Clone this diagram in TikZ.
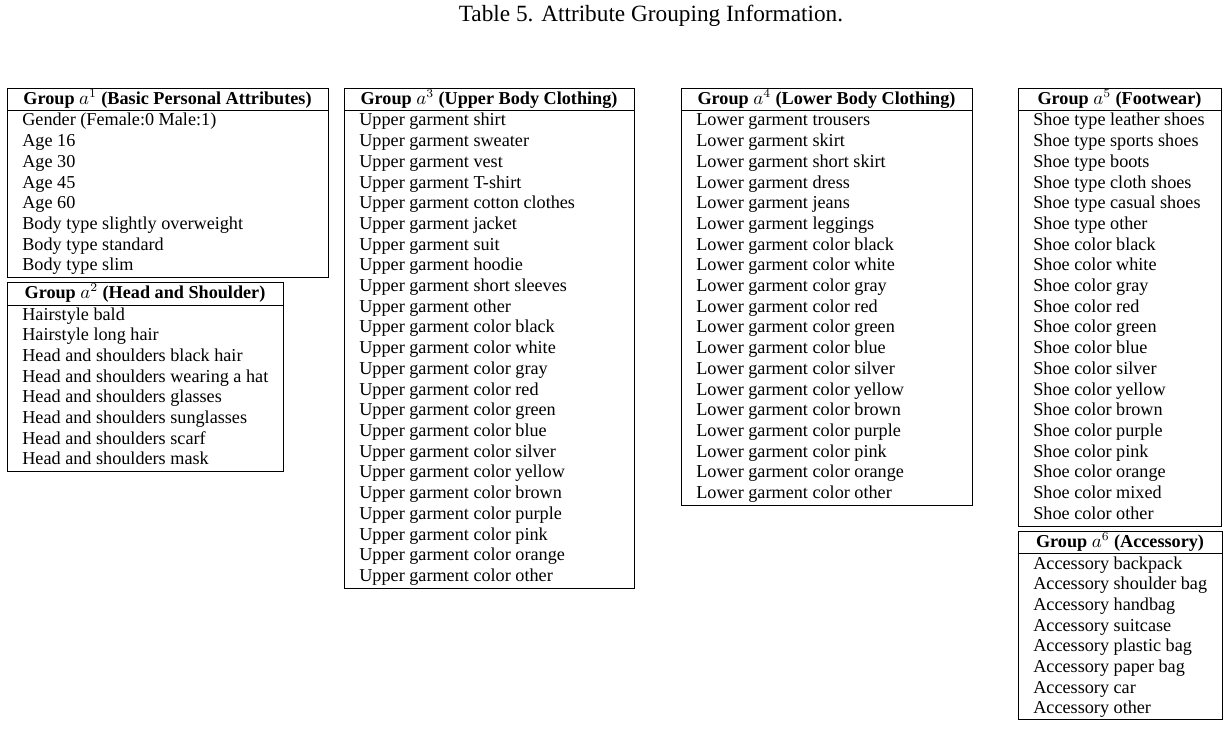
\documentclass[tikz,border=0pt]{standalone}
\usepackage{fontspec}
\setmainfont{Liberation Serif}
\begin{document}
\begin{tikzpicture}[x=0.58pt,y=-0.58pt,
  frame/.style={draw=black,line width=0.5pt},
  item/.style={anchor=base west,inner sep=0pt,font=\fontsize{10.55}{12}\selectfont},
  head/.style={anchor=base,inner sep=0pt,font=\fontsize{10.55}{12}\selectfont},
  ttl/.style={anchor=base,inner sep=0pt,font=\fontsize{13.5}{16}\selectfont}]
\useasboundingbox (0,0) rectangle (1232,733);
\node[ttl] (title) at (651,21.5) {Table 5. Attribute Grouping Information.};
% Group 1
\draw[frame] (7,88) rectangle (328,277);
\draw[frame] (7,110) -- (328,110);
\node[head] (h1) at (167.5,104.5) {\textbf{Group} $a^1$ \textbf{(Basic Personal Attributes)}};
\foreach \t [count=\i from 0] in {Gender (Female:0 Male:1),Age 16,Age 30,Age 45,Age 60,Body type slightly overweight,Body type standard,Body type slim}
  \node[item] (g1-\i) at (22,126+\i*20.7) {\t};
% Group 2
\draw[frame] (7,282) rectangle (283,471);
\draw[frame] (7,305) -- (283,305);
\node[head] (h2) at (145,298.5) {\textbf{Group} $a^2$ \textbf{(Head and Shoulder)}};
\foreach \t [count=\i from 0] in {Hairstyle bald,Hairstyle long hair,Head and shoulders black hair,Head and shoulders wearing a hat,Head and shoulders glasses,Head and shoulders sunglasses,Head and shoulders scarf,Head and shoulders mask}
  \node[item] (g2-\i) at (22,320+\i*20.7) {\t};
% Group 3
\draw[frame] (344,88) rectangle (634,588);
\draw[frame] (344,110) -- (634,110);
\node[head] (h3) at (489,104.5) {\textbf{Group} $a^3$ \textbf{(Upper Body Clothing)}};
\foreach \t [count=\i from 0] in {Upper garment shirt,Upper garment sweater,Upper garment vest,Upper garment T-shirt,Upper garment cotton clothes,Upper garment jacket,Upper garment suit,Upper garment hoodie,Upper garment short sleeves,Upper garment other,Upper garment color black,Upper garment color white,Upper garment color gray,Upper garment color red,Upper garment color green,Upper garment color blue,Upper garment color silver,Upper garment color yellow,Upper garment color brown,Upper garment color purple,Upper garment color pink,Upper garment color orange,Upper garment color other}
  \node[item] (g3-\i) at (359,126+\i*20.7) {\t};
% Group 4
\draw[frame] (681,88) rectangle (972,505);
\draw[frame] (681,110) -- (972,110);
\node[head] (h4) at (826.5,104.5) {\textbf{Group} $a^4$ \textbf{(Lower Body Clothing)}};
\foreach \t [count=\i from 0] in {Lower garment trousers,Lower garment skirt,Lower garment short skirt,Lower garment dress,Lower garment jeans,Lower garment leggings,Lower garment color black,Lower garment color white,Lower garment color gray,Lower garment color red,Lower garment color green,Lower garment color blue,Lower garment color silver,Lower garment color yellow,Lower garment color brown,Lower garment color purple,Lower garment color pink,Lower garment color orange,Lower garment color other}
  \node[item] (g4-\i) at (696,126+\i*20.7) {\t};
% Group 5
\draw[frame] (1018,88) rectangle (1221,526);
\draw[frame] (1018,110) -- (1221,110);
\node[head] (h5) at (1119.5,104.5) {\textbf{Group} $a^5$ \textbf{(Footwear)}};
\foreach \t [count=\i from 0] in {Shoe type leather shoes,Shoe type sports shoes,Shoe type boots,Shoe type cloth shoes,Shoe type casual shoes,Shoe type other,Shoe color black,Shoe color white,Shoe color gray,Shoe color red,Shoe color green,Shoe color blue,Shoe color silver,Shoe color yellow,Shoe color brown,Shoe color purple,Shoe color pink,Shoe color orange,Shoe color mixed,Shoe color other}
  \node[item] (g5-\i) at (1033,126+\i*20.7) {\t};
% Group 6
\draw[frame] (1018,531) rectangle (1222,719);
\draw[frame] (1018,553) -- (1222,553);
\node[head] (h6) at (1120,547.5) {\textbf{Group} $a^6$ \textbf{(Accessory)}};
\foreach \t [count=\i from 0] in {Accessory backpack,Accessory shoulder bag,Accessory handbag,Accessory suitcase,Accessory plastic bag,Accessory paper bag,Accessory car,Accessory other}
  \node[item] (g6-\i) at (1033,569+\i*20.7) {\t};
\end{tikzpicture}
\end{document}
